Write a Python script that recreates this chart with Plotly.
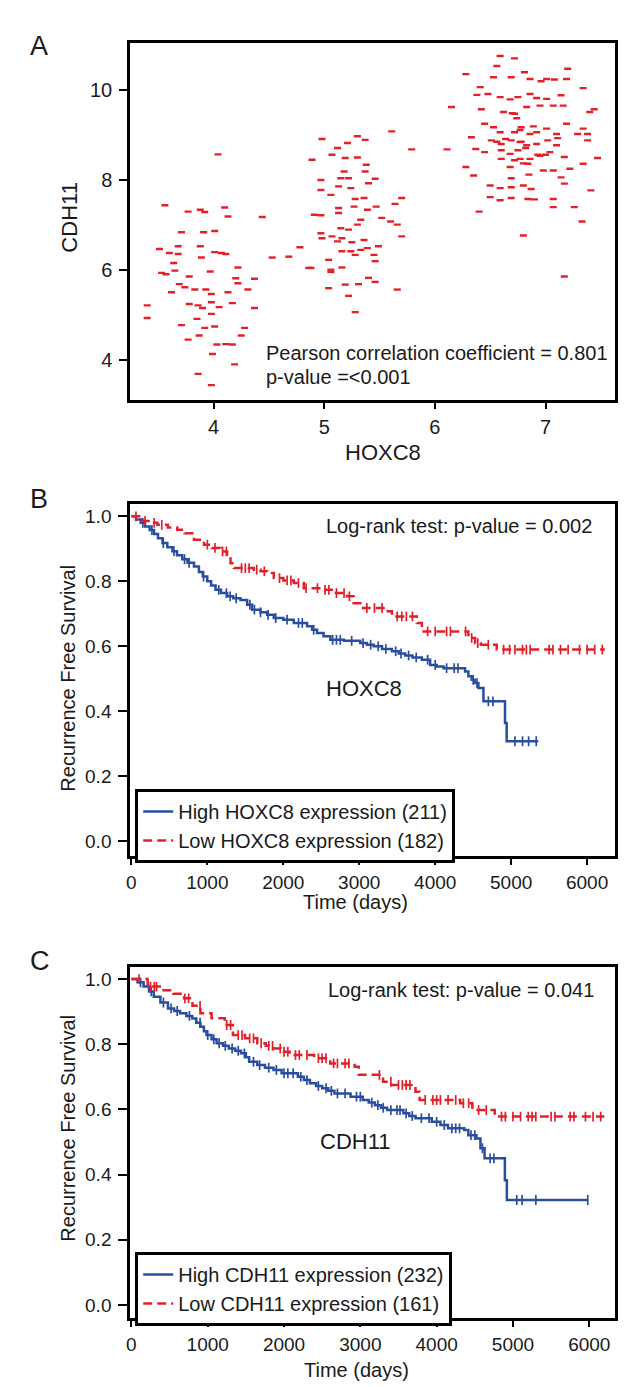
import numpy as np
import plotly.graph_objects as go

# ---------------- Panel A: scatter (HOXC8 vs CDH11) ----------------
hoxc8 = [
    # low-expression cluster
    3.71, 3.91, 4.01, 3.51, 3.60, 3.68, 3.68, 3.88, 3.89, 4.01, 4.07, 4.11, 4.53, 3.64, 3.65, 3.53,
    3.57, 3.78, 3.97, 4.22, 4.20, 4.22, 4.37, 3.69, 3.74, 3.62, 3.83, 3.93, 3.98, 4.13, 4.31, 3.78,
    3.86, 3.90, 3.98, 4.05, 4.17, 4.37, 3.40, 3.40, 3.98, 3.85, 3.71, 3.77, 3.87, 3.92, 4.01, 4.28,
    4.25, 4.03, 4.11, 4.17, 3.99, 4.19, 3.86, 3.98,
    3.56, 3.77, 3.88, 3.92, 4.04, 4.10, 4.13, 4.44,
    # bridge
    4.68, 4.78, 4.86, 5.79,
    # mid-expression cluster
    4.98, 5.30, 5.61, 5.37, 5.12, 5.21, 4.89, 5.07, 5.19, 5.30, 5.38, 5.37, 5.18, 5.46, 4.97, 5.15,
    5.22, 5.40, 4.97, 5.06, 5.13, 5.24, 5.28, 5.36, 5.47, 5.27, 5.39, 5.70, 5.64, 4.91, 4.97, 5.13,
    5.13, 5.30, 5.33, 5.52, 5.60, 5.66, 5.15, 5.22, 4.97, 4.98, 5.07, 5.16, 5.25, 5.36, 5.70, 5.12,
    5.16, 5.24, 5.28, 5.33, 5.39, 5.45, 5.49, 5.46, 5.04, 4.88, 5.06, 5.16, 5.06, 5.04, 5.19, 5.31,
    5.40, 5.46, 5.66, 5.22, 5.28,
    # high-expression cluster
    6.59, 6.72, 6.56, 6.28, 6.53, 6.69, 6.81, 6.86, 6.96, 7.01, 7.08, 7.20, 7.19, 6.41, 6.38, 6.48,
    6.59, 6.68, 6.75, 6.86, 6.92, 7.01, 7.14, 7.34, 6.15, 6.42, 6.62, 6.72, 6.83, 6.95, 7.07, 7.16,
    7.40, 7.44, 6.45, 6.53, 6.59, 6.72, 6.78, 6.86, 6.92, 7.01, 7.10, 7.19, 7.29, 7.38, 6.33, 6.51,
    6.60, 6.69, 6.77, 6.83, 6.92, 7.02, 7.10, 7.34, 7.38, 6.11, 6.37, 6.45, 6.60, 6.68, 6.75, 6.86,
    6.95, 7.04, 7.17, 7.34, 7.47, 6.28, 6.35, 6.60, 6.68, 6.77, 6.84, 6.98, 7.07, 7.14, 7.22, 6.50,
    6.59, 6.69, 6.80, 6.87, 7.17, 7.41, 6.50, 6.59, 6.69, 6.84, 6.90, 7.07, 7.07, 7.26, 6.40, 7.33,
    6.80, 7.17,
    6.70, 6.77, 6.78, 6.72, 6.82, 6.64, 6.89, 6.74, 6.56, 7.00, 6.85, 7.11, 6.69, 6.93, 6.80,
]
cdh11 = [
    # low-expression cluster
    6.84, 6.84, 6.87, 6.47, 6.38, 6.36, 6.53, 6.53, 6.28, 6.40, 6.38, 6.36, 6.28, 6.16, 5.99, 5.94,
    5.91, 5.86, 5.97, 6.06, 5.82, 5.71, 5.81, 5.69, 5.62, 5.51, 5.57, 5.57, 5.47, 5.51, 5.57, 5.25,
    5.22, 5.16, 5.29, 5.18, 5.27, 5.16, 5.22, 4.94, 5.03, 4.92, 4.78, 4.46, 4.55, 4.72, 4.75, 4.72,
    4.55, 4.35, 4.36, 4.35, 4.14, 3.91, 3.70, 3.45,
    7.44, 7.30, 7.34, 7.29, 8.57, 7.39, 7.19, 7.18,
    # bridge
    6.30, 6.51, 6.05, 8.68,
    # mid-expression cluster
    8.91, 8.97, 9.08, 8.89, 8.71, 8.82, 8.45, 8.56, 8.49, 8.50, 8.34, 8.19, 8.19, 8.03, 8.00, 8.04,
    8.04, 7.93, 7.78, 7.67, 7.86, 7.82, 7.58, 7.60, 7.41, 7.41, 7.34, 7.60, 7.47, 7.23, 7.22, 7.27,
    7.38, 7.01, 7.12, 7.16, 7.08, 7.01, 6.93, 6.90, 6.82, 6.71, 6.75, 6.71, 6.62, 6.67, 6.75, 6.64,
    6.42, 6.42, 6.34, 6.45, 6.49, 6.34, 6.53, 6.20, 6.23, 6.05, 6.01, 6.06, 5.96, 5.60, 5.68, 5.69,
    5.83, 5.74, 5.57, 5.43, 5.07,
    # high-expression cluster
    10.75, 10.70, 10.53, 10.35, 10.28, 10.28, 10.39, 10.24, 10.19, 10.24, 10.23, 10.47, 10.24, 10.06, 9.89, 9.91,
    9.84, 9.79, 9.84, 9.91, 9.82, 9.80, 9.88, 10.04, 9.62, 9.57, 9.51, 9.47, 9.62, 9.65, 9.65, 9.65,
    9.51, 9.57, 9.25, 9.17, 9.06, 9.06, 9.17, 9.02, 9.06, 9.14, 9.02, 9.25, 9.02, 9.02, 8.95, 8.88,
    8.80, 8.88, 8.84, 8.77, 8.80, 8.88, 8.77, 9.14, 8.88, 8.68, 8.69, 8.62, 8.66, 8.58, 8.66, 8.47,
    8.54, 8.62, 8.51, 8.36, 8.49, 8.29, 8.10, 8.47, 8.29, 8.47, 8.36, 8.21, 8.21, 8.06, 8.25, 7.88,
    7.82, 7.84, 7.88, 7.80, 7.92, 7.77, 7.62, 7.55, 7.60, 7.58, 7.57, 7.58, 7.40, 7.40, 7.30, 7.08,
    6.77, 5.86,
    9.48, 9.11, 8.85, 8.44, 8.71, 8.91, 9.19, 9.37, 8.85, 8.56, 8.12, 8.93, 8.04, 8.56, 8.37,
]

# ---------------- Panel B: Kaplan-Meier, HOXC8 ----------------
b_high_t = [0, 60, 123, 180, 240, 298, 350, 410, 473, 540, 600, 670, 740, 824, 889, 940, 999, 1050,
            1108, 1180, 1261, 1340, 1436, 1524, 1590, 1700, 1787, 1875, 2000, 2138, 2313, 2380, 2444,
            2530, 2619, 2800, 3013, 3100, 3189, 3300, 3430, 3520, 3605, 3700, 3824, 3933, 4020, 4109,
            4393, 4437, 4480, 4520, 4569, 4635, 4919, 4941, 5357]
b_high_s = [1.0, 0.990, 0.980, 0.969, 0.958, 0.946, 0.933, 0.918, 0.905, 0.893, 0.880, 0.868, 0.857,
            0.846, 0.829, 0.815, 0.800, 0.787, 0.774, 0.764, 0.754, 0.748, 0.743, 0.728, 0.713, 0.705,
            0.697, 0.687, 0.682, 0.672, 0.662, 0.651, 0.641, 0.631, 0.620, 0.617, 0.610, 0.605, 0.600,
            0.592, 0.585, 0.578, 0.572, 0.566, 0.559, 0.543, 0.538, 0.533, 0.523, 0.508, 0.497, 0.487,
            0.472, 0.431, 0.364, 0.308, 0.308]
b_high_cens = [150, 270, 420, 560, 700, 760, 950, 1150, 1250, 1300, 1380, 1560, 1620, 1700, 1800, 1900,
               2050, 2200, 2250, 2400, 2650, 2700, 2750, 2900, 3050, 3150, 3250, 3350, 3480, 3550, 3650,
               3750, 3900, 4000, 4150, 4250, 4300, 4500, 4550, 4700, 4760, 5050, 5150, 5230, 5330]

b_low_t = [0, 123, 250, 342, 480, 604, 700, 824, 955, 1060, 1174, 1261, 1305, 1349, 1612, 1700, 1787,
           1875, 2000, 2138, 2269, 2532, 2663, 2838, 2926, 3013, 3342, 3430, 3758, 3824, 4437, 4525,
           4600, 4810, 6233]
b_low_s = [1.0, 0.986, 0.980, 0.974, 0.966, 0.959, 0.948, 0.928, 0.913, 0.903, 0.892, 0.882, 0.856,
           0.841, 0.836, 0.831, 0.826, 0.810, 0.803, 0.795, 0.779, 0.774, 0.764, 0.754, 0.733, 0.718,
           0.708, 0.692, 0.672, 0.646, 0.626, 0.610, 0.605, 0.590, 0.590]
b_low_cens = [60, 180, 300, 400, 1000, 1100, 1200, 1250, 1450, 1500, 1550, 1650, 1750, 1950, 2050, 2100,
              2200, 2300, 2450, 2550, 2600, 2700, 2800, 2870, 3100, 3200, 3300, 3500, 3560, 3620, 3700,
              3900, 4000, 4150, 4200, 4400, 4480, 4560, 4700, 4900, 4980, 5050, 5150, 5200, 5250, 5500,
              5550, 5650, 5750, 5900, 6000, 6100, 6200]

# ---------------- Panel C: Kaplan-Meier, CDH11 ----------------
c_high_t = [0, 80, 160, 230, 293, 380, 479, 560, 638, 720, 798, 850, 904, 950, 984, 1050, 1117, 1200,
            1277, 1360, 1436, 1500, 1543, 1649, 1750, 1862, 1968, 2181, 2260, 2340, 2420, 2500, 2580,
            2660, 2872, 3032, 3110, 3191, 3270, 3351, 3564, 3640, 3723, 3936, 4050, 4149, 4362, 4415,
            4521, 4574, 4628, 4894, 4920, 5984]
c_high_s = [1.0, 0.990, 0.977, 0.962, 0.946, 0.928, 0.910, 0.902, 0.895, 0.887, 0.879, 0.866, 0.854,
            0.840, 0.828, 0.815, 0.803, 0.795, 0.787, 0.780, 0.772, 0.760, 0.746, 0.736, 0.728, 0.721,
            0.711, 0.700, 0.690, 0.680, 0.672, 0.665, 0.657, 0.649, 0.639, 0.629, 0.621, 0.613, 0.605,
            0.598, 0.588, 0.580, 0.573, 0.562, 0.552, 0.542, 0.537, 0.521, 0.511, 0.481, 0.450, 0.383,
            0.322, 0.322]
c_high_cens = [120, 260, 420, 520, 600, 760, 900, 1000, 1080, 1150, 1230, 1320, 1400, 1480, 1600, 1680,
               1800, 1900, 2000, 2050, 2120, 2220, 2300, 2450, 2550, 2620, 2700, 2800, 2950, 3000, 3150,
               3230, 3300, 3400, 3480, 3520, 3600, 3680, 3800, 3900, 4000, 4100, 4200, 4250, 4300, 4450,
               4500, 4600, 4700, 4750, 5050, 5120, 5300, 5980]

c_low_t = [0, 213, 372, 550, 691, 800, 904, 1050, 1223, 1330, 1489, 1649, 1760, 1862, 1960, 2074, 2394,
           2606, 2926, 2979, 3298, 3404, 3670, 3723, 3777, 4309, 4468, 4761, 6197]
c_low_s = [1.0, 0.977, 0.966, 0.955, 0.941, 0.918, 0.895, 0.880, 0.859, 0.828, 0.818, 0.803, 0.795,
           0.787, 0.777, 0.767, 0.757, 0.741, 0.731, 0.706, 0.685, 0.675, 0.665, 0.654, 0.629, 0.619,
           0.598, 0.578, 0.578]
c_low_cens = [100, 250, 300, 330, 700, 750, 900, 1250, 1300, 1400, 1450, 1550, 1600, 1700, 1800, 1850,
              1950, 2000, 2050, 2150, 2200, 2300, 2450, 2500, 2550, 2650, 2700, 2800, 2850, 3250, 3400,
              3500, 3550, 3600, 3650, 3850, 3950, 4000, 4050, 4150, 4250, 4350, 4420, 4550, 4650, 4850,
              4900, 5000, 5100, 5200, 5250, 5300, 5500, 5550, 5750, 5800, 5950, 6050, 6150]

# ---------------- styling ----------------
W, H = 641, 1387
FONT = "Liberation Sans, Arial, Helvetica, sans-serif"
RED = "#E3202A"
BLUE = "#2A4E9F"
TXT = "#1a1a1a"


def px(x):
    return x / W


def py(y):
    return 1 - y / H


def surv_at(times, surv, t):
    i = np.searchsorted(np.asarray(times), t, side="right") - 1
    return float(np.asarray(surv)[max(i, 0)])


fig = go.Figure()

# Panel A scatter
fig.add_trace(go.Scatter(
    x=hoxc8, y=cdh11, mode="markers", xaxis="x", yaxis="y", showlegend=False,
    marker=dict(symbol="line-ew", size=5, line=dict(color=RED, width=2.4), color=RED),
    hoverinfo="x+y",
))


def km(t, s, cens, color, dash, name, xa, ya, legend):
    fig.add_trace(go.Scatter(
        x=t, y=s, mode="lines", line=dict(color=color, width=2.5, dash=dash, shape="hv"),
        name=name, xaxis=xa, yaxis=ya, legend=legend, showlegend=True,
    ))
    cy = [surv_at(t, s, c) for c in cens]
    fig.add_trace(go.Scatter(
        x=cens, y=cy, mode="markers", xaxis=xa, yaxis=ya, showlegend=False,
        marker=dict(symbol="line-ns", size=7, line=dict(color=color, width=1.7), color=color),
        hoverinfo="skip",
    ))


km(b_high_t, b_high_s, b_high_cens, BLUE, "solid", "High HOXC8 expression (211)", "x2", "y2", "legend2")
km(b_low_t, b_low_s, b_low_cens, RED, "9px,5px", "Low HOXC8 expression (182)", "x2", "y2", "legend2")
km(c_high_t, c_high_s, c_high_cens, BLUE, "solid", "High CDH11 expression (232)", "x3", "y3", "legend3")
km(c_low_t, c_low_s, c_low_cens, RED, "9px,5px", "Low CDH11 expression (161)", "x3", "y3", "legend3")

XD = [px(119), px(607)]
base = dict(
    showline=True, mirror=True, linecolor="black", linewidth=3,
    ticks="outside", tickwidth=2, tickcolor="black",
    showgrid=False, zeroline=False,
)
xA = dict(base, ticklen=6, ticklabelstandoff=1, tickfont=dict(family=FONT, size=20, color=TXT))
yA = dict(base, ticklen=8, ticklabelstandoff=3, tickfont=dict(family=FONT, size=20, color=TXT))
xK = dict(base, ticklen=6, ticklabelstandoff=1, tickfont=dict(family=FONT, size=19, color=TXT))
yK = dict(base, ticklen=9, ticklabelstandoff=3, tickfont=dict(family=FONT, size=19, color=TXT))
TIME_TICKS = [0, 1000, 2000, 3000, 4000, 5000, 6000]
SURV_TICKS = [0, 0.2, 0.4, 0.6, 0.8, 1.0]

legend_style = dict(xanchor="left", yanchor="top", bgcolor="white",
                    bordercolor="black", borderwidth=3,
                    font=dict(family=FONT, size=20, color=TXT),
                    tracegroupgap=0, itemwidth=30)

fig.update_layout(
    width=W, height=H,
    margin=dict(l=0, r=0, t=0, b=0),
    paper_bgcolor="white", plot_bgcolor="white",
    font=dict(family=FONT, size=20, color=TXT),
    showlegend=True,
    xaxis=dict(domain=XD, anchor="y", range=[3.247, 7.63], tickvals=[4, 5, 6, 7], **xA),
    yaxis=dict(domain=[py(392), py(35)], anchor="x", range=[3.12, 11.04], tickvals=[4, 6, 8, 10], **yA),
    xaxis2=dict(domain=XD, anchor="y2", range=[-15, 6370], tickvals=TIME_TICKS, **xK),
    yaxis2=dict(domain=[py(848), py(496)], anchor="x2", range=[-0.045, 1.038],
                tickvals=SURV_TICKS, tickformat=".1f", **yK),
    xaxis3=dict(domain=XD, anchor="y3", range=[-15, 6340], tickvals=TIME_TICKS, **xK),
    yaxis3=dict(domain=[py(1310), py(959)], anchor="x3", range=[-0.04, 1.037],
                tickvals=SURV_TICKS, tickformat=".1f", **yK),
    legend2=dict(x=px(124), y=py(781), **legend_style),
    legend3=dict(x=px(124), y=py(1244), **legend_style),
)


def ann(x, y, text, size=20, xanchor="center", angle=0):
    fig.add_annotation(x=px(x), y=py(y), xref="paper", yref="paper", text=text, showarrow=False,
                       xanchor=xanchor, yanchor="middle", textangle=angle,
                       font=dict(family=FONT, size=size, color=TXT))


# panel letters
ann(27, 38, "A", 27)
ann(27, 491, "B", 27)
ann(28, 953, "C", 27)

# panel A texts
ann(58, 209, "CDH11", 22, angle=-90)
ann(373, 444, "HOXC8", 22)
ann(254, 345, "Pearson correlation coefficient = 0.801", 20, xanchor="left")
ann(254, 369, "p-value =&lt;0.001", 20, xanchor="left")

# panel B texts
ann(56, 670, "Recurrence Free Survival", 20, angle=-90)
ann(346, 894, "Time (days)", 20)
ann(586, 518, "Log-rank test: p-value = 0.002", 20, xanchor="right")
ann(354, 680, "HOXC8", 22)

# panel C texts
ann(56, 1120, "Recurrence Free Survival", 20, angle=-90)
ann(347, 1362, "Time (days)", 20)
ann(588, 982, "Log-rank test: p-value = 0.041", 20, xanchor="right")
ann(346, 1133, "CDH11", 22)

fig.write_html("out.html")
